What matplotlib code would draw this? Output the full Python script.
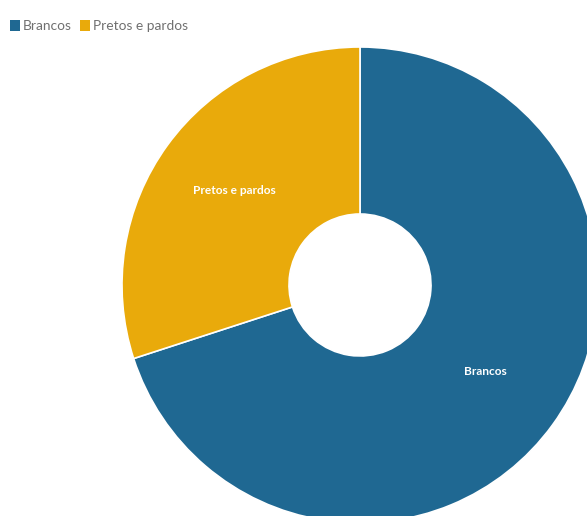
import matplotlib
matplotlib.use('Agg')
from matplotlib import pyplot as plt
from matplotlib.patches import Rectangle

labels = ['Brancos', 'Pretos e pardos']
values = [70, 30]
colors = ['#1f6892', '#e9aa0b']

W, H = 587, 516
fig = plt.figure(figsize=(W / 100, H / 100), dpi=100)
ax = fig.add_axes([0, 0, 1, 1])

wedges, texts = ax.pie(values, labels=labels, colors=colors, startangle=90, counterclock=False,
                       center=(360, H - 285), radius=238, labeldistance=0.65,
                       wedgeprops=dict(width=238 - 71, edgecolor='white', linewidth=1.2),
                       textprops=dict(color='white', fontsize=8.6, fontweight='bold', family='Lato'),
                       frame=True)
for t in texts:
    t.set_ha('center')
    t.set_va('center')
    px, py = t.get_position()
    t.set_position((px, py + 4))
ax.set_xlim(0, W)
ax.set_ylim(0, H)
ax.set_aspect('equal')
ax.axis('off')

# legend drawn at top left
x = 10
for lab, col in zip(labels, colors):
    ax.add_patch(Rectangle((x, H - 31), 10, 11, facecolor=col, edgecolor='none'))
    t = ax.text(x + 13, H - 25.5, lab, fontsize=9.9, color='#707070', va='center', family='Lato')
    fig.canvas.draw()
    bb = t.get_window_extent()
    x = bb.x1 + 8

fig.savefig('out.png', dpi=100)
